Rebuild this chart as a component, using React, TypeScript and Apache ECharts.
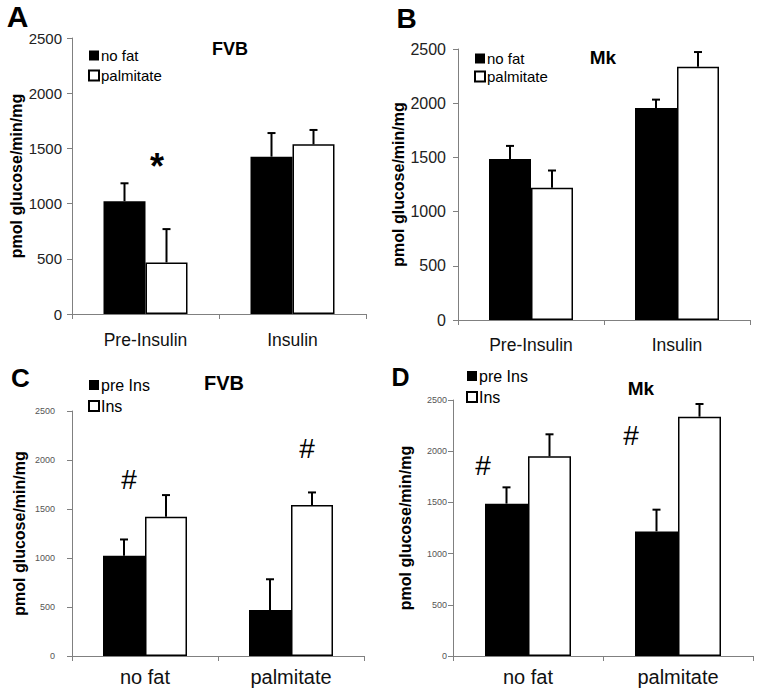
import React, { useEffect, useRef } from 'react';
import * as echarts from 'echarts';

const FONT = 'Arial, "Liberation Sans", Helvetica, sans-serif';

// Categories
const catsTop = ['Pre-Insulin', 'Insulin'];
const catsBottom = ['no fat', 'palmitate'];
const namesTop = ['no fat', 'palmitate'];
const namesBottom = ['pre Ins', 'Ins'];

// Y scale
const yMin = 0;
const yMax = 2500;
const yStep = 500;

// Panel A (FVB)
const aNoFat = [1022, 1425];
const aNoFatErr = [162, 214];
const aPalm = [467, 1537];
const aPalmErr = [302, 130];

// Panel B (Mk)
const bNoFat = [1486, 1956];
const bNoFatErr = [120, 77];
const bPalm = [1219, 2337];
const bPalmErr = [160, 135];

// Panel C (FVB)
const cPreIns = [1022, 470];
const cPreInsErr = [167, 313];
const cIns = [1420, 1540];
const cInsErr = [222, 129];

// Panel D (Mk)
const dPreIns = [1488, 1217];
const dPreInsErr = [159, 212];
const dIns = [1950, 2337];
const dInsErr = [215, 124];

// Significance marks: category index, y value, text
const aMarks = [[0, 1336, '*']];
const cMarks = [[0, 1800, '#'], [1, 2122, '#']];
const dMarks = [[0, 1860, '#'], [1, 2158, '#']];

type Panel = {
  letter: string;
  title: string;
  grid: { left: number; top: number; width: number; height: number };
  cats: string[];
  names: string[];
  values: number[][];
  errs: number[][];
  barWidth: number;
  yLabel: { fontSize: number; color: string; margin: number };
  catLabel: { fontSize: number; margin: number };
  nameGap: number;
  legend: { left: number; top: number; fontSize: number; itemGap: number };
  marks: any[];
  markDx: number[];
  markStyle: { fontSize: number; fontWeight: string };
  letterPos: [number, number, number];
  titlePos: [number, number, number];
};

const panels: Panel[] = [
  {
    letter: 'A', title: 'FVB',
    grid: { left: 72, top: 38, width: 294, height: 276 },
    cats: catsTop, names: namesTop,
    values: [aNoFat, aPalm], errs: [aNoFatErr, aPalmErr],
    barWidth: 42,
    yLabel: { fontSize: 15, color: '#222', margin: 10 },
    catLabel: { fontSize: 17.5, margin: 17 },
    nameGap: 47,
    legend: { left: 88, top: 48, fontSize: 15, itemGap: 5 },
    marks: aMarks, markDx: [11.5],
    markStyle: { fontSize: 36, fontWeight: 'bold' },
    letterPos: [17.5, 16, 30], titlePos: [230, 49, 18],
  },
  {
    letter: 'B', title: 'Mk',
    grid: { left: 458, top: 49, width: 292, height: 271 },
    cats: catsTop, names: namesTop,
    values: [bNoFat, bPalm], errs: [bNoFatErr, bPalmErr],
    barWidth: 42,
    yLabel: { fontSize: 16, color: '#222', margin: 12 },
    catLabel: { fontSize: 17.5, margin: 16 },
    nameGap: 44,
    legend: { left: 474, top: 51, fontSize: 15, itemGap: 3 },
    marks: [], markDx: [],
    markStyle: { fontSize: 22, fontWeight: 'normal' },
    letterPos: [406.5, 18, 28], titlePos: [603, 57, 19],
  },
  {
    letter: 'C', title: 'FVB',
    grid: { left: 72, top: 411, width: 292, height: 245 },
    cats: catsBottom, names: namesBottom,
    values: [cPreIns, cIns], errs: [cPreInsErr, cInsErr],
    barWidth: 42,
    yLabel: { fontSize: 9, color: '#555', margin: 17 },
    catLabel: { fontSize: 20, margin: 11 },
    nameGap: 45,
    legend: { left: 88, top: 377, fontSize: 16, itemGap: 5 },
    marks: cMarks, markDx: [-16, 16],
    markStyle: { fontSize: 28, fontWeight: 'normal' },
    letterPos: [20.5, 377.5, 26], titlePos: [224, 383, 20],
  },
  {
    letter: 'D', title: 'Mk',
    grid: { left: 453, top: 400, width: 300, height: 256 },
    cats: catsBottom, names: namesBottom,
    values: [dPreIns, dIns], errs: [dPreInsErr, dInsErr],
    barWidth: 43,
    yLabel: { fontSize: 9, color: '#555', margin: 6 },
    catLabel: { fontSize: 20, margin: 11 },
    nameGap: 40,
    legend: { left: 466, top: 368, fontSize: 16, itemGap: 5 },
    marks: dMarks, markDx: [-45, -47],
    markStyle: { fontSize: 28, fontWeight: 'normal' },
    letterPos: [400.5, 376.5, 25], titlePos: [641, 388.5, 19],
  },
];

const AXIS_COLOR = '#808080';

function buildOption() {
  const grid = panels.map((p) => ({ ...p.grid, containLabel: false }));
  const xAxis = panels.map((p, i) => ({
    type: 'category',
    gridIndex: i,
    data: p.cats,
    axisLine: { show: true, lineStyle: { color: AXIS_COLOR, width: 1 } },
    axisTick: { show: true, length: 5, lineStyle: { color: AXIS_COLOR } },
    axisLabel: {
      fontFamily: FONT,
      fontSize: p.catLabel.fontSize,
      color: '#111',
      margin: p.catLabel.margin,
    },
    splitLine: { show: false },
  }));
  const yAxis = panels.map((p, i) => ({
    type: 'value',
    gridIndex: i,
    min: yMin,
    max: yMax,
    interval: yStep,
    name: 'pmol glucose/min/mg',
    nameLocation: 'middle',
    nameGap: p.nameGap,
    nameTextStyle: { fontFamily: FONT, fontSize: 16, fontWeight: 'bold', color: '#000' },
    axisLine: { show: true, lineStyle: { color: AXIS_COLOR, width: 1 } },
    axisTick: { show: true, length: 5, lineStyle: { color: AXIS_COLOR } },
    axisLabel: {
      fontFamily: FONT,
      fontSize: p.yLabel.fontSize,
      color: p.yLabel.color,
      margin: p.yLabel.margin,
      formatter: (v: number) => String(v),
    },
    splitLine: { show: false },
  }));

  const series: any[] = [];
  panels.forEach((p, i) => {
    p.values.forEach((vals, k) => {
      series.push({
        type: 'bar',
        name: p.names[k],
        xAxisIndex: i,
        yAxisIndex: i,
        data: vals,
        barWidth: p.barWidth,
        barGap: '0%',
        itemStyle:
          k === 0
            ? { color: '#000' }
            : { color: '#fff', borderColor: '#000', borderWidth: 1.5 },
        z: 2,
      });
    });
    p.values.forEach((vals, k) => {
      const offset = (k - 0.5) * p.barWidth;
      series.push({
        type: 'custom',
        xAxisIndex: i,
        yAxisIndex: i,
        silent: true,
        z: 3,
        data: vals.map((v, j) => [j, v, p.errs[k][j]]),
        renderItem: (_params: any, api: any) => {
          const c = api.value(0);
          const v = api.value(1);
          const e = api.value(2);
          const base = api.coord([c, v]);
          const top = api.coord([c, v + e]);
          const cx = base[0] + offset;
          return {
            type: 'group',
            children: [
              {
                type: 'line',
                shape: { x1: cx, y1: base[1], x2: cx, y2: top[1] },
                style: { stroke: '#000', lineWidth: 2 },
              },
              {
                type: 'line',
                shape: { x1: cx - 4, y1: top[1], x2: cx + 4, y2: top[1] },
                style: { stroke: '#000', lineWidth: 2 },
              },
            ],
          };
        },
      });
    });
    if (p.marks.length) {
      series.push({
        type: 'custom',
        xAxisIndex: i,
        yAxisIndex: i,
        silent: true,
        z: 4,
        data: p.marks.map((m: any, j: number) => [m[0], m[1], j]),
        renderItem: (params: any, api: any) => {
          const idx = params.dataIndex;
          const m = p.marks[idx];
          const pt = api.coord([api.value(0), api.value(1)]);
          return {
            type: 'text',
            x: pt[0] + p.markDx[idx],
            y: pt[1],
            style: {
              text: m[2],
              align: 'center',
              verticalAlign: 'middle',
              fontFamily: FONT,
              fontSize: p.markStyle.fontSize,
              fontWeight: p.markStyle.fontWeight,
              fill: '#000',
            },
          };
        },
      });
    }
  });

  const legend = panels.map((p) => ({
    left: p.legend.left,
    top: p.legend.top,
    orient: 'vertical',
    padding: 0,
    itemWidth: 10,
    itemHeight: 10,
    itemGap: p.legend.itemGap,
    icon: 'rect',
    selectedMode: false,
    data: p.names,
    textStyle: {
      fontFamily: FONT,
      fontSize: p.legend.fontSize,
      color: '#000',
      padding: [0, 0, 0, -3],
    },
  }));

  const graphic: any[] = [];
  panels.forEach((p) => {
    graphic.push({
      type: 'text',
      x: p.letterPos[0],
      y: p.letterPos[1],
      style: {
        text: p.letter,
        align: 'center',
        verticalAlign: 'middle',
        fontFamily: FONT,
        fontSize: p.letterPos[2],
        fontWeight: 'bold',
        fill: '#000',
      },
    });
    graphic.push({
      type: 'text',
      x: p.titlePos[0],
      y: p.titlePos[1],
      style: {
        text: p.title,
        align: 'center',
        verticalAlign: 'middle',
        fontFamily: FONT,
        fontSize: p.titlePos[2],
        fontWeight: 'bold',
        fill: '#000',
      },
    });
  });

  return {
    animation: false,
    backgroundColor: '#fff',
    textStyle: { fontFamily: FONT },
    grid,
    xAxis,
    yAxis,
    legend,
    series,
    graphic,
  };
}

export default function App() {
  const ref = useRef<HTMLDivElement>(null);
  useEffect(() => {
    document.body.style.margin = '0';
    if (!ref.current) return;
    const chart = echarts.init(ref.current, undefined, { renderer: 'svg' });
    chart.setOption(buildOption() as any);
    return () => chart.dispose();
  }, []);
  return <div ref={ref} style={{ width: 762, height: 700 }} />;
}
